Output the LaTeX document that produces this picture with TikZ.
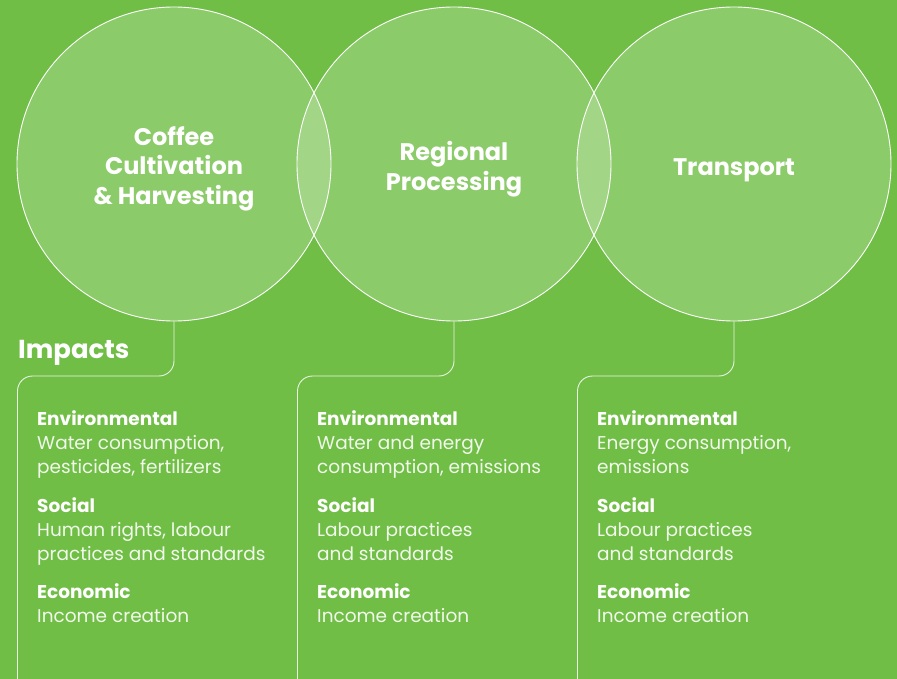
\documentclass[tikz,border=0pt]{standalone}
\usepackage{fontspec}
\setmainfont{Poppins}
\usetikzlibrary{positioning}
\definecolor{leaf}{RGB}{112,190,69}
\tikzset {
    stage/.style = {
        draw = white,
        line width = 0.9pt,
        shape = circle,
        fill = white,
        fill opacity = 0.2,
        minimum size = 314pt,
        inner sep = 0pt
    },
    caption/.style = {
        align = center,
        inner sep = 0pt,
        text = white,
        font = \bfseries\fontsize{24}{29.5}\selectfont
    },
    link/.style = {
        draw = white,
        draw opacity = 0.85,
        line width = 0.9pt,
        rounded corners = 15pt
    },
    title/.style = {
        anchor = base west,
        inner sep = 0pt,
        text = white,
        font = \bfseries\fontsize{26}{30}\selectfont
    },
    group/.style = {
        anchor = base west, % base = last line here
        inner sep = 0pt,
        align = left,
        text = white!90!leaf,
        font = \fontsize{18.5}{24}\selectfont
    }
}
\newcommand{\head}[1]{\textcolor{white}{\textbf{#1}}}

\begin{document}
\begin{tikzpicture}[x=1pt, y=-1pt, node distance=280pt]
        % Background
        \fill[leaf] (0, 0) rectangle (897, 679);
        \useasboundingbox (0, 0) rectangle (897, 679);

        % Circles : cultivation, processing, transport
        \node [stage] at (174, 164)         (cult)  {};
        \node [stage, right of=cult]        (proc)  {};
        \node [stage, right of=proc]        (trans) {};

        \node [caption] at (174, 168.5) (cultname)  {Coffee\\Cultivation\\\& Harvesting};
        \node [caption] at (454, 169)   (procname)  {Regional\\Processing};
        \node [caption] at (734, 170)   (transname) {Transport};

        % Corners and free ends of the brackets
        \coordinate (cultbox)   at (17.5, 376);
        \coordinate (cultend)   at (17.5, 679);
        \coordinate (procbox)   at (297.5, 376);
        \coordinate (procend)   at (297.5, 679);
        \coordinate (transbox)  at (577.5, 376);
        \coordinate (transend)  at (577.5, 679);

        \path [link] (cult.south)   |- (cultbox)    -- (cultend);
        \path [link] (proc.south)   |- (procbox)    -- (procend);
        \path [link] (trans.south)  |- (transbox)   -- (transend);

        \node [title] at (18, 358) (impacts) {Impacts};

        % First column
        \node [group] at (37, 473) (cultenv)  {\head{Environmental}\\Water consumption,\\pesticides, fertilizers};
        \node [group] at (37, 560) (cultsoc)  {\head{Social}\\Human rights, labour\\practices and standards};
        \node [group] at (37, 622) (cultecon) {\head{Economic}\\Income creation};

        % Second column
        \node [group] at (317, 473) (procenv)  {\head{Environmental}\\Water and energy\\consumption, emissions};
        \node [group] at (317, 560) (procsoc)  {\head{Social}\\Labour practices\\and standards};
        \node [group] at (317, 622) (procecon) {\head{Economic}\\Income creation};

        % Third column
        \node [group] at (597, 473) (transenv)  {\head{Environmental}\\Energy consumption,\\emissions};
        \node [group] at (597, 560) (transsoc)  {\head{Social}\\Labour practices\\and standards};
        \node [group] at (597, 622) (transecon) {\head{Economic}\\Income creation};
    \end{tikzpicture}
\end{document}
